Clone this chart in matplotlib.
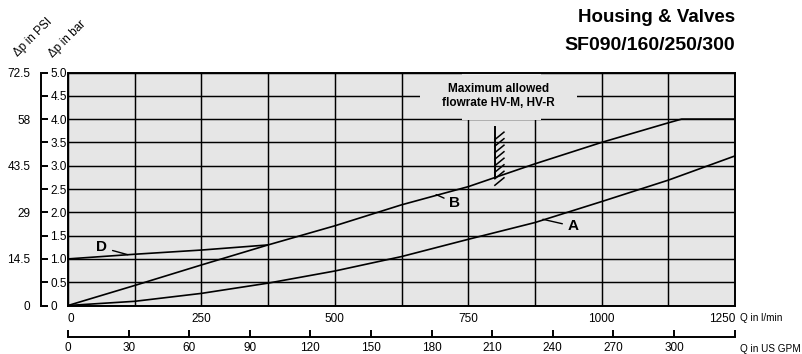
# -*- coding: utf-8 -*-
"""Housing & Valves SF090/160/250/300 - pressure drop vs flow"""
import numpy as np, matplotlib
matplotlib.use("Agg")
import matplotlib.pyplot as plt
from matplotlib.patches import Rectangle

plt.rcParams["font.family"] = ["Liberation Sans", "DejaVu Sans"]

# ── Data ─────────────────────────────────────────────────────────────────────
flow_A = [0, 125, 250, 375, 500, 625, 750, 875, 1000, 1125, 1250]
dp_A   = [0, 0.09, 0.26, 0.48, 0.74, 1.05, 1.42, 1.78, 2.23, 2.69, 3.21]
flow_B = [0, 125, 250, 375, 500, 625, 750, 875, 1000, 1125, 1150, 1250]
dp_B   = [0, 0.43, 0.87, 1.30, 1.71, 2.16, 2.55, 3.04, 3.50, 3.92, 4.0, 4.0]
flow_D = [0, 125, 250, 375]
dp_D   = [1.0, 1.10, 1.19, 1.30]

lpm_ticks = [0, 250, 500, 750, 1000, 1250]
gpm_ticks = [0, 30, 60, 90, 120, 150, 180, 210, 240, 270, 300]
psi_ticks = [0, 14.5, 29, 43.5, 58, 72.5]
psi_labels = ["0", "14.5", "29", "43.5", "58", "72.5"]
bar_ticks = [0, 0.5, 1.0, 1.5, 2.0, 2.5, 3.0, 3.5, 4.0, 4.5, 5.0]

MAX_FLOW = 800          # max allowed flowrate HV-M, HV-R (l/min)
MAX_LO, MAX_HI = 2.63, 3.82
LPM_PER_GPM = 3.78541
BAR_TO_PSI = 14.5

BG = "#e6e6e6"
W, H = 802, 354
FS = 8.5

def px(x0, y0, x1, y1):
    return [x0 / W, 1 - y1 / H, (x1 - x0) / W, (y1 - y0) / H]

fig = plt.figure(figsize=(W / 100, H / 100), dpi=100)

# ── Main plot ────────────────────────────────────────────────────────────────
ax = fig.add_axes(px(68, 72.5, 735, 305.5))
ax.set_facecolor(BG)
ax.set_xlim(0, 1250); ax.set_ylim(0, 5)
xt = np.arange(0, 1251, 125)
ax.set_xticks(xt)
ax.set_xticklabels([str(int(v)) if v in lpm_ticks else "" for v in xt])
lbls = ax.get_xticklabels()
lbls[0].set_ha("left"); lbls[-1].set_ha("right")
ax.set_yticks(bar_ticks); ax.set_yticklabels([])
ax.tick_params(length=0)
ax.tick_params(axis="x", pad=5.5, labelsize=FS)
ax.grid(True, color="black", lw=1.05)
ax.set_axisbelow(True)
for s in ax.spines.values():
    s.set_linewidth(1.4)

# blank area round the max-flow note
ax.add_patch(Rectangle((660, 4.15), 294, 0.7, fc=BG, ec="none", zorder=1))
ax.add_patch(Rectangle((739, 3.985), 148, 1.0, fc=BG, ec="none", zorder=1))
ax.text(806, 4.5, "Maximum allowed\nflowrate HV-M, HV-R", ha="center", va="center",
        fontsize=8.5, fontweight="bold", linespacing=1.2, zorder=3)

for f, d in [(flow_A, dp_A), (flow_B, dp_B), (flow_D, dp_D)]:
    ax.plot(f, d, color="black", lw=1.2, solid_joinstyle="round", zorder=2)

# hatched max-flow marker
ax.plot([MAX_FLOW, MAX_FLOW], [MAX_LO + 0.1, MAX_HI], color="black", lw=1.4, zorder=2)
for y0 in np.arange(MAX_LO - 0.05, MAX_HI - 0.12, 0.14):
    ax.plot([MAX_FLOW, MAX_FLOW + 17], [y0, y0 + 0.16], color="black", lw=1.1, zorder=2)

arr = dict(arrowstyle="-", lw=1.0, color="black", shrinkA=2, shrinkB=0)
ax.annotate("D", xy=(112, 1.09), xytext=(63, 1.245), ha="center", va="center",
            fontsize=11, fontweight="bold", arrowprops=arr)
ax.annotate("B", xy=(690, 2.38), xytext=(725, 2.2), ha="center", va="center",
            fontsize=11, fontweight="bold", arrowprops=arr)
ax.annotate("A", xy=(890, 1.85), xytext=(947, 1.70), ha="center", va="center",
            fontsize=11, fontweight="bold", arrowprops=arr)

# ── US GPM axis ──────────────────────────────────────────────────────────────
axg = fig.add_axes(px(68, 320, 735, 336.7))
axg.set_facecolor("none")
for k in ["top", "left", "right"]:
    axg.spines[k].set_visible(False)
axg.spines["bottom"].set_linewidth(1.4)
axg.set_xlim(0, 1250 / LPM_PER_GPM)
axg.set_xticks(gpm_ticks)
axg.set_xticks([1250 / LPM_PER_GPM], minor=True)
axg.set_yticks([])
axg.tick_params(axis="x", which="both", direction="in", length=5, width=1.4, pad=4, labelsize=FS)

# ── Left pressure axis (PSI / bar) ───────────────────────────────────────────
axl = fig.add_axes(px(41, 72.5, 41.5, 305.5))
axl.set_facecolor("none")
for k in ["top", "bottom", "right"]:
    axl.spines[k].set_visible(False)
axl.spines["left"].set_linewidth(1.4)
axl.set_xticks([])
axl.set_ylim(0, 5 * BAR_TO_PSI)
axl.set_yticks(psi_ticks); axl.set_yticklabels(psi_labels)
axl.tick_params(axis="y", length=0, pad=7.5, labelsize=FS)

axr = axl.twinx()
for s in axr.spines.values():
    s.set_visible(False)
axr.set_ylim(0, 5)
axr.set_yticks(bar_ticks)
axr.set_yticklabels(["0" if v == 0 else f"{v:.1f}" for v in bar_ticks])
axr.tick_params(axis="y", direction="out", length=4, width=1.4, pad=2.5, labelsize=FS)

# ── Texts ────────────────────────────────────────────────────────────────────
fig.text(18 / W, 1 - 57 / H, "Δp in PSI", rotation=45, rotation_mode="anchor",
         ha="left", va="baseline", fontsize=FS)
fig.text(53 / W, 1 - 58 / H, "Δp in bar", rotation=45, rotation_mode="anchor",
         ha="left", va="baseline", fontsize=FS)
fig.text(735 / W, 1 - 18 / H, "Housing & Valves", ha="right", va="center",
         fontsize=13.5, fontweight="bold")
fig.text(735 / W, 1 - 45 / H, "SF090/160/250/300", ha="right", va="center",
         fontsize=14, fontweight="bold")
fig.text(740 / W, 1 - 318 / H, "Q in l/min", ha="left", va="center", fontsize=7.2)
fig.text(740 / W, 1 - 349 / H, "Q in US GPM", ha="left", va="center", fontsize=7.2)

fig.savefig("out.png", dpi=100)
